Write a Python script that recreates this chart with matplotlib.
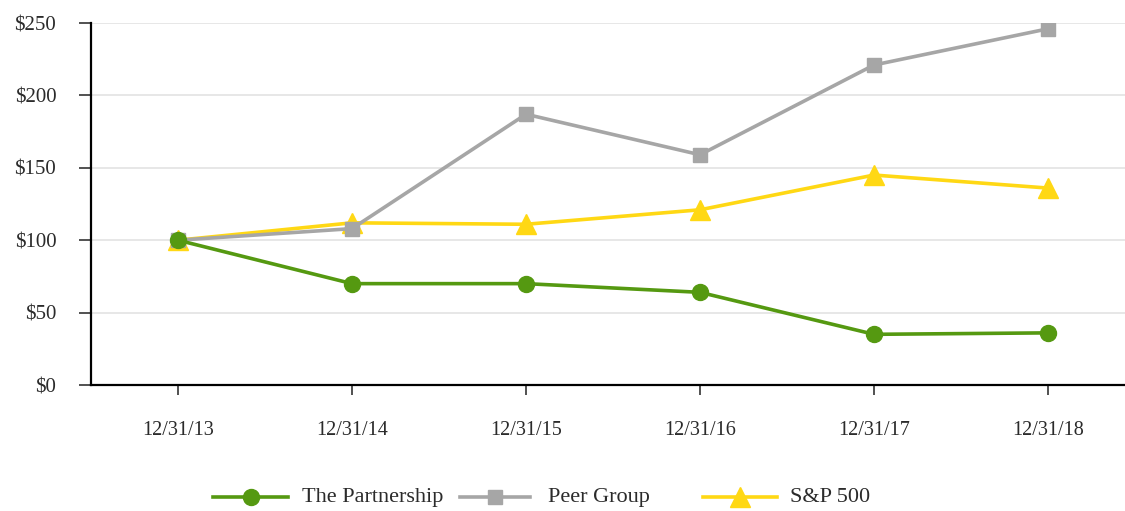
import matplotlib
matplotlib.use("Agg")
import matplotlib.pyplot as plt
from matplotlib.lines import Line2D

# Cumulative total return data
dates = ["12/31/13", "12/31/14", "12/31/15", "12/31/16", "12/31/17", "12/31/18"]
partnership = [100, 70, 70, 64, 35, 36]
peer_group = [100, 108, 187, 159, 221, 246]
sp500 = [100, 112, 111, 121, 145, 136]

y_ticks = [0, 50, 100, 150, 200, 250]
y_labels = ["$0", "$50", "$100", "$150", "$200", "$250"]

GREEN = "#559911"
GRAY = "#a6a6a6"
YELLOW = "#ffd814"
TEXT = "#2b2b2b"

plt.rcParams["font.family"] = ["Liberation Serif", "DejaVu Serif"]

fig = plt.figure(figsize=(11.25, 5.11), dpi=100)
ax = fig.add_axes([91 / 1125, 1 - 385 / 511, 1044 / 1125, 362 / 511])

x = list(range(len(dates)))

ax.plot(x, sp500, color=YELLOW, lw=2.6, marker="^", ms=14, zorder=3)
ax.plot(x, peer_group, color=GRAY, lw=2.6, marker="s", ms=10, zorder=4)
ax.plot(x, partnership, color=GREEN, lw=2.6, marker="o", ms=11.5, zorder=5)

ax.set_xlim(-0.5, len(dates) - 0.5)
ax.set_ylim(0, 250)
ax.set_xticks(x)
ax.set_xticklabels(dates, fontsize=14.5, color=TEXT)
ax.set_yticks(y_ticks)
ax.set_yticklabels(y_labels, fontsize=15, color=TEXT)

ax.grid(axis="y", color="#e3e3e3", lw=1.2, zorder=0)
ax.set_axisbelow(True)

for side in ("top", "right"):
    ax.spines[side].set_visible(False)
for side in ("left", "bottom"):
    ax.spines[side].set_linewidth(1.6)
    ax.spines[side].set_color("black")

ax.tick_params(axis="y", length=9, width=1.2, pad=16, color="#333333")
ax.tick_params(axis="x", length=7, width=1.2, pad=19, color="#333333")

# Legend row beneath the plot
legend_y = 1 - 497 / 511
entries = [
    (213, 288, 302, "The Partnership", GREEN, "o", 11.5),
    (460, 530, 548, "Peer Group", GRAY, "s", 10),
    (703, 777, 790, "S&P 500", YELLOW, "^", 14),
]
for x0, x1, tx, label, color, marker, ms in entries:
    fig.add_artist(Line2D([x0 / 1125, x1 / 1125], [legend_y, legend_y],
                          transform=fig.transFigure, color=color, lw=2.6))
    fig.add_artist(Line2D([(x0 + x1) / 2 / 1125], [legend_y],
                          transform=fig.transFigure, color=color,
                          marker=marker, ms=ms, lw=0))
    fig.text(tx / 1125, legend_y, label, fontsize=16, color=TEXT,
             ha="left", va="center")

fig.savefig("out.png", dpi=100)
